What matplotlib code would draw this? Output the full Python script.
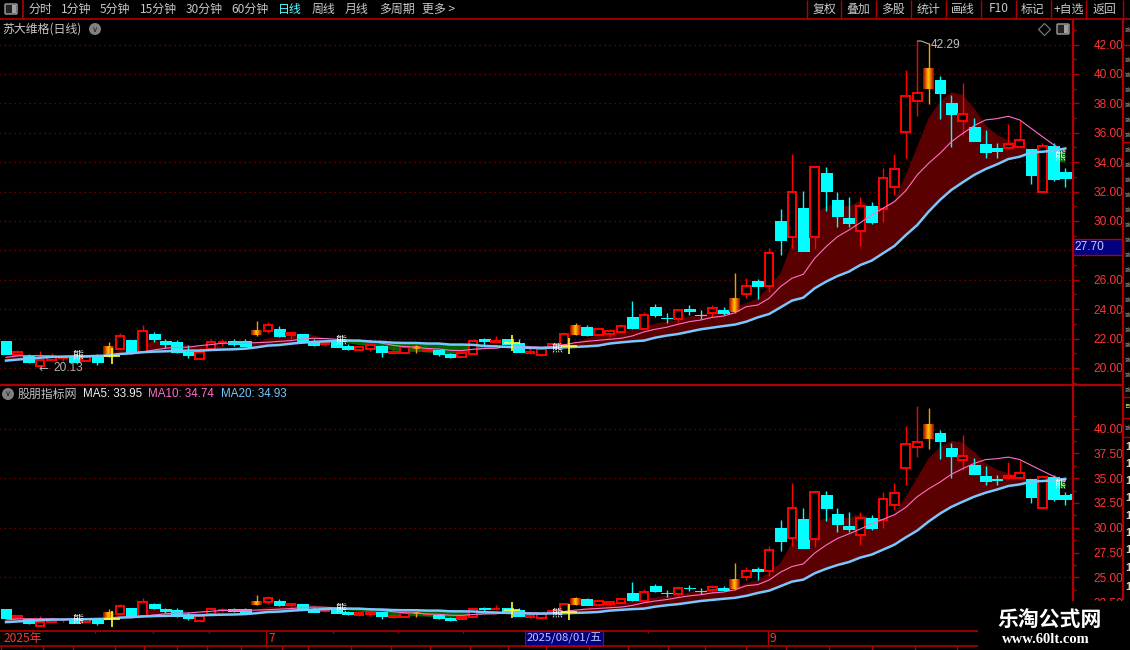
import numpy as np
import matplotlib
matplotlib.use("Agg")
import matplotlib.pyplot as plt
from matplotlib.colors import LinearSegmentedColormap
from matplotlib.patches import Rectangle, Circle, FancyBboxPatch

plt.rcParams['font.family'] = ['Noto Sans CJK SC', 'DejaVu Sans']

# candles
opens = [21.84, 20.88, 20.84, 20.13, 20.54, 20.67, 20.77, 20.5, 20.75, 20.82,
         21.3, 21.9, 21.09, 22.31, 21.84, 21.77, 21.11, 20.64, 21.27, 21.74,
         21.84, 21.84, 22.24, 22.52, 22.65, 22.22, 22.31, 21.75, 21.6, 21.9,
         21.5, 21.25, 21.3, 21.5, 21.0, 21.04, 21.3, 21.17, 21.2, 20.95,
         20.77, 20.97, 21.95, 21.79, 21.95, 21.7, 21.05, 20.9, 21.45, 21.56,
         22.24, 22.79, 22.27, 22.33, 22.47, 23.47, 22.63, 24.15, 23.43, 23.36,
         23.98, 23.63, 23.72, 23.94, 23.83, 25.05, 25.89, 25.6, 30.0, 28.93,
         30.88, 28.89, 33.26, 31.43, 30.2, 29.3, 31.02, 30.79, 32.33, 36.03,
         38.14, 38.98, 39.59, 38.02, 36.78, 36.37, 35.23, 34.96, 34.99, 35.01,
         34.9, 31.95, 35.08, 33.33]
closes = [20.95, 21.09, 20.41, 20.54, 20.77, 20.72, 20.41, 20.77, 20.41, 21.5,
          22.15, 21.09, 22.5, 21.97, 21.63, 21.11, 20.91, 21.11, 21.79, 21.76,
          21.61, 21.52, 22.58, 22.92, 22.18, 22.36, 21.79, 21.56, 21.75, 21.45,
          21.27, 21.4, 21.54, 21.09, 21.1, 21.45, 21.5, 21.2, 20.95, 20.75,
          21.0, 21.8, 21.84, 21.85, 21.63, 21.09, 21.1, 21.27, 21.63, 22.31,
          22.86, 22.24, 22.63, 22.5, 22.83, 22.72, 23.58, 23.6, 23.4, 23.92,
          23.9, 23.6, 24.06, 23.76, 24.76, 25.6, 25.6, 27.8, 28.7, 31.95,
          27.98, 33.65, 32.04, 30.34, 29.86, 31.0, 29.93, 32.9, 33.51, 38.48,
          38.68, 40.4, 38.73, 37.28, 37.25, 35.46, 34.71, 34.78, 35.21, 35.48,
          33.15, 35.08, 32.88, 32.95]
highs = [21.84, 21.22, 20.95, 21.16, 21.0, 20.88, 20.88, 20.88, 20.95, 21.79,
         22.36, 21.9, 22.93, 22.47, 21.97, 21.9, 21.56, 21.34, 21.97, 21.95,
         21.97, 21.95, 23.2, 23.1, 22.86, 22.43, 22.31, 22.0, 21.8, 21.95,
         21.6, 21.5, 21.54, 21.56, 21.33, 21.45, 21.56, 21.4, 21.2, 21.04,
         21.11, 21.97, 22.06, 22.18, 21.95, 21.97, 21.45, 21.27, 21.7, 22.47,
         23.04, 22.92, 22.72, 22.63, 22.97, 24.56, 23.81, 24.35, 23.72, 23.92,
         24.29, 23.95, 24.29, 24.12, 26.44, 26.1, 26.03, 28.14, 30.81, 34.55,
         32.04, 33.65, 33.67, 31.95, 31.63, 31.63, 31.29, 33.6, 34.55, 40.27,
         42.29, 42.08, 39.86, 38.57, 39.38, 37.0, 36.19, 35.3, 36.6, 36.8,
         34.9, 35.28, 35.28, 33.6]
lows = [20.95, 20.88, 20.32, 20.13, 20.54, 20.5, 20.41, 20.5, 20.18, 20.77,
        21.3, 20.95, 21.09, 21.79, 21.38, 21.04, 20.7, 20.64, 21.27, 21.5,
        21.52, 21.52, 22.18, 22.36, 22.13, 21.95, 21.68, 21.52, 21.5, 21.4,
        21.2, 21.2, 21.15, 20.77, 20.95, 21.04, 21.04, 21.15, 20.84, 20.66,
        20.77, 20.97, 21.56, 21.68, 21.63, 21.09, 20.95, 20.83, 21.45, 21.56,
        22.24, 22.18, 22.27, 22.09, 22.47, 22.63, 22.63, 23.49, 23.08, 23.15,
        23.63, 23.33, 23.45, 23.6, 23.76, 24.78, 24.71, 25.19, 27.68, 28.18,
        27.98, 28.09, 30.68, 29.61, 29.61, 28.3, 29.79, 29.93, 31.77, 34.28,
        37.14, 37.96, 36.94, 35.05, 35.82, 35.46, 34.28, 34.28, 34.9, 35.01,
        32.51, 31.95, 32.74, 32.33]
hot_days = [9, 22, 36, 50, 64, 81]

ma5 = [20.77, 20.93, 20.88, 20.88, 20.82, 20.75, 20.79, 20.75, 20.73, 20.93,
       21.22, 21.34, 21.56, 21.9, 21.79, 21.68, 21.56, 21.45, 21.68, 21.41,
       21.34, 21.5, 21.72, 22.02, 22.09, 22.13, 22.31, 22.22, 22.02, 21.9,
       21.68, 21.56, 21.45, 21.3, 21.2, 21.1, 21.1, 21.05, 21.0, 20.95,
       21.0, 21.1, 21.3, 21.45, 21.5, 21.45, 21.36, 21.35, 21.4, 21.45,
       21.7, 22.0, 22.25, 22.35, 22.47, 22.6, 22.8, 23.0, 23.15, 23.26,
       23.5, 23.65, 23.8, 23.9, 24.1, 24.4, 24.74, 25.53, 26.44, 28.48,
       29.61, 30.52, 30.97, 31.2, 30.97, 31.38, 30.97, 30.97, 31.43, 33.13,
       35.05, 36.98, 38.12, 38.77, 38.57, 37.66, 36.53, 35.85, 35.5, 35.17,
       34.83, 34.3, 34.1, 33.95]
ma10 = [20.72, 20.82, 20.84, 20.84, 20.82, 20.77, 20.77, 20.77, 20.77, 20.88,
        20.97, 20.97, 21.09, 21.22, 21.34, 21.41, 21.41, 21.52, 21.59, 21.68,
        21.68, 21.68, 21.72, 21.75, 21.81, 21.86, 21.97, 22.02, 22.0, 21.95,
        21.9, 21.84, 21.84, 21.68, 21.54, 21.45, 21.41, 21.32, 21.29, 21.2,
        21.18, 21.27, 21.32, 21.34, 21.45, 21.5, 21.45, 21.41, 21.43, 21.57,
        21.72, 21.81, 21.88, 21.95, 22.02, 22.18, 22.45, 22.63, 22.77, 22.97,
        23.15, 23.26, 23.44, 23.53, 23.76, 24.17, 24.28, 24.74, 25.53, 26.1,
        26.37, 27.46, 28.25, 28.93, 29.38, 29.88, 30.4, 30.86, 31.31, 32.06,
        33.13, 33.92, 34.6, 35.39, 35.96, 36.48, 36.87, 36.96, 37.12, 36.87,
        36.3, 35.73, 35.17, 34.74]
ma20 = [20.5, 20.57, 20.63, 20.7, 20.75, 20.77, 20.79, 20.79, 20.82, 20.84,
        20.95, 21.0, 21.07, 21.11, 21.13, 21.16, 21.18, 21.18, 21.22, 21.25,
        21.27, 21.31, 21.4, 21.52, 21.56, 21.65, 21.72, 21.77, 21.81, 21.84,
        21.86, 21.86, 21.79, 21.77, 21.72, 21.7, 21.7, 21.66, 21.66, 21.59,
        21.59, 21.57, 21.5, 21.47, 21.43, 21.4, 21.36, 21.36, 21.38, 21.4,
        21.43, 21.47, 21.52, 21.66, 21.74, 21.81, 21.86, 22.06, 22.2, 22.31,
        22.47, 22.63, 22.74, 22.85, 22.95, 23.15, 23.44, 23.67, 24.12, 24.58,
        24.78, 25.42, 25.87, 26.25, 26.55, 27.0, 27.3, 27.8, 28.3, 29.04,
        29.72, 30.63, 31.43, 32.11, 32.63, 33.13, 33.53, 33.85, 34.21, 34.37,
        34.65, 34.71, 34.78, 34.93]

# signal marks
xiong_x = [6.3, 29.4, 48.4, 92.5]
xiong_y = [20.82, 21.9, 21.36, 34.4]
cross_x = [9.3, 44.4, 49.4]
cross_y = [20.8, 21.7, 21.5]

top_ticks = [20, 22, 24, 26, 28, 30, 32, 34, 36, 38, 40, 42]
top_labels = ['20.00', '22.00', '24.00', '26.00', '', '30.00', '32.00', '34.00',
              '36.00', '38.00', '40.00', '42.00']
bot_ticks = [22.5, 25, 27.5, 30, 32.5, 35, 37.5, 40]
bot_grid = [25, 30, 35, 40]

tabs = ['分时', '1分钟', '5分钟', '15分钟', '30分钟', '60分钟', '日线', '周线', '月线', '多周期', '更多 >']
tab_x = [40, 76, 115, 158, 204, 250, 290, 323, 357, 397, 439]
tools = ['复权', '叠加', '多股', '统计', '画线', 'F10', '标记', '+自选', '返回']
tool_x = [825, 858, 893, 928, 963, 999, 1033, 1069, 1104]
tool_sep = [807, 841, 876, 911, 946, 981, 1016, 1051, 1086, 1123]
time_ticks = [95, 153, 209, 333, 398, 463, 648]
bottom_sep = [1, 43, 73, 115, 144, 177, 207, 241, 282, 308, 351, 391, 430, 470,
              508, 546, 589, 628, 668, 705, 746, 786, 829, 872, 915, 957]

RED = '#b00000'
GRID = '#8a0000'
TICKTXT = '#ff3535'
W, H = 1130, 650
STEP = 11.39
X0 = 6.0

fig = plt.figure(figsize=(W / 100, H / 100), dpi=100, facecolor='black')
hot = LinearSegmentedColormap.from_list('hot_bar', ['#a01000', '#e86000', '#ffd000', '#e86000', '#a01000'])


def pane(y_top, y_bot, lim_top, lim_bot):
    ax = fig.add_axes([0, 1 - y_bot / H, 1072.5 / W, (y_bot - y_top) / H], facecolor='black')
    idx = np.arange(len(opens))
    a5 = np.array(ma5)
    a20 = np.array(ma20)
    ax.fill_between(idx, a5, a20, where=a5 >= a20, interpolate=True, color='#5a0000', lw=0, zorder=1)
    ax.fill_between(idx, a5, a20, where=a5 < a20, interpolate=True, color='#006400', lw=0, zorder=1)

    for i in idx:
        o, c, h, l = opens[i], closes[i], highs[i], lows[i]
        if i in hot_days:
            ax.vlines(i, l, h, color='#ff9900', lw=1.0, zorder=2)
            ax.imshow(np.linspace(0, 1, 12).reshape(1, -1), cmap=hot, aspect='auto',
                      extent=[i - 0.48, i + 0.48, o, c], zorder=3)
        elif c >= o:
            ax.vlines(i, l, h, color='#ff0000', lw=1.0, zorder=2)
            ax.add_patch(Rectangle((i - 0.38, o), 0.76, c - o, fc='black', ec='#ff0000', lw=1.1,
                                   zorder=3, antialiased=False))
        else:
            ax.vlines(i, l, h, color='#00ffff', lw=1.0, zorder=2)
            ax.add_patch(Rectangle((i - 0.48, c), 0.96, o - c, fc='#00ffff', ec='#00ffff', lw=0.4,
                                   zorder=3, antialiased=False))

    ax.plot(idx, ma10, color='#ff70c8', lw=0.8, zorder=4)
    ax.plot(idx, ma20, color='#78c8ff', lw=1.8, zorder=4)
    ax.plot(cross_x, cross_y, '+', color='#ffff30', ms=11, mew=1.2, zorder=5)
    for x, y in zip(xiong_x, xiong_y):
        ax.text(x, y, '熊', color='white', fontsize=8, ha='center', va='center', zorder=6)

    ax.set_xlim(-X0 / STEP, (1072.5 - X0) / STEP)
    ax.set_ylim(lim_bot, lim_top)
    ax.set_xticks([])
    for s in ['left', 'top', 'bottom']:
        ax.spines[s].set_visible(False)
    ax.spines['right'].set_color(RED)
    ax.spines['right'].set_linewidth(1.6)
    ax.yaxis.tick_right()
    ax.tick_params(axis='y', which='major', length=4, width=1, color=RED, labelcolor=TICKTXT,
                   labelsize=8.6, pad=11)
    ax.tick_params(axis='y', which='minor', length=2.5, width=1, color=RED)
    return ax


# upper pane
ax1 = pane(20, 385, 43.67, 18.84)
ax1.set_yticks(top_ticks)
ax1.set_yticklabels(top_labels, family=['Liberation Sans'])
ax1.set_yticks(np.arange(19, 44, 2), minor=True)
ax1.hlines(top_ticks, -1, 94, color=GRID, lw=0.9, linestyles=(0, (1, 3)), zorder=0.5)

# lower pane
ax2 = pane(386, 628, 44.28, 19.91)
ax2.set_yticks(bot_ticks)
ax2.set_yticklabels(['%.2f' % t for t in bot_ticks], family=['Liberation Sans'])
ax2.set_yticks([23.75, 26.25, 28.75, 31.25, 33.75, 36.25, 38.75, 41.25], minor=True)
ax2.hlines(bot_grid, -1, 94, color=GRID, lw=0.9, linestyles=(0, (1, 3)), zorder=0.5)

# everything around the panes, in pixels
ui = fig.add_axes([0, 0, 1, 1], facecolor='none', zorder=10)
ui.set_xlim(0, W)
ui.set_ylim(H, 0)
ui.axis('off')

ui.hlines(19, 0, W, color=RED, lw=1.2)
ui.vlines(23, 0, 19, color=RED, lw=1.2)
ui.hlines(385, 0, 1123, color=RED, lw=1.6)
ui.vlines(1123, 19, 600, color=RED, lw=1.6)
ui.vlines(tool_sep, 0, 19, color=RED, lw=1.0)

ui.add_patch(FancyBboxPatch((6, 5), 10, 8, boxstyle='round,pad=1', fc='#222222', ec='#a0a0a0', lw=1))
ui.add_patch(Rectangle((12, 5), 4, 8, fc='#a0a0a0', ec='none'))
for t, x in zip(tabs, tab_x):
    ui.text(x, 9, t, color='#55ffff' if t == '日线' else '#c8c8c8', fontsize=8.6, ha='center', va='center')
for t, x in zip(tools, tool_x):
    ui.text(x, 9, t, color='#c8c8c8', fontsize=8.6, ha='center', va='center')

ui.text(2, 29, '苏大维格(日线)', color='#c8c8c8', fontsize=8.6, va='center')
ui.add_patch(Circle((95, 29), 6, fc='#808080', ec='none'))
ui.text(95, 29, '∨', color='#202020', fontsize=6, ha='center', va='center', family='DejaVu Sans')
ui.plot([1044], [29], 'D', mfc='none', mec='#808080', ms=6, mew=0.8)
ui.add_patch(FancyBboxPatch((1058, 25), 10, 8, boxstyle='round,pad=1', fc='#222222', ec='#a0a0a0', lw=1))
ui.add_patch(Rectangle((1064, 25), 4, 8, fc='#a0a0a0', ec='none'))

# high / low notes
ui.plot([918, 921, 929], [41, 41, 44], color='#b0b0b0', lw=0.8)
ui.text(931, 45.5, '42.29', color='#c0c0c0', fontsize=8.6, va='center', family=['Liberation Sans'])
ui.text(38, 368, '←', color='#b0b0b0', fontsize=8.6, va='center', family='DejaVu Sans')
ui.text(53, 368, '20.13', color='#b0b0b0', fontsize=8.6, va='center', family=['Liberation Sans'])

# current price box
ui.add_patch(Rectangle((1073, 239), 50, 16, fc='#000080', ec=RED, lw=1))
ui.text(1074, 247, '27.70', color='#c8c8ff', fontsize=8.6, va='center', family=['Liberation Sans'])
ui.hlines([175, 495], 1070, 1072, color='#00ffff', lw=1.5)

# second legend row
ui.add_patch(Circle((8, 394), 6, fc='#808080', ec='none'))
ui.text(8, 394, '∨', color='#202020', fontsize=6, ha='center', va='center', family='DejaVu Sans')
ui.text(18, 394, '股朋指标网', color='#c0c0c0', fontsize=8.6, va='center')
ui.text(83, 394, 'MA5: 33.95', color='#f0f0f0', fontsize=8.4, va='center', family=['Liberation Sans'])
ui.text(148, 394, 'MA10: 34.74', color='#ff70c8', fontsize=8.4, va='center', family=['Liberation Sans'])
ui.text(221, 394, 'MA20: 34.93', color='#78c8ff', fontsize=8.4, va='center', family=['Liberation Sans'])

# time axis
ui.hlines([630.5, 646], 0, 978, color=RED, lw=1.2)
ui.vlines(time_ticks, 630, 633, color=RED, lw=1)
ui.vlines([266, 768], 630, 646, color=RED, lw=1)
ui.vlines(bottom_sep, 646, 650, color=RED, lw=1)
ui.text(4, 638.5, '2025年', color=TICKTXT, fontsize=8.6, va='center')
ui.text(268, 638.5, '7', color=TICKTXT, fontsize=8.6, va='center')
ui.text(770, 638.5, '9', color=TICKTXT, fontsize=8.6, va='center')
ui.add_patch(Rectangle((525, 631), 78, 15, fc='#000080', ec=RED, lw=0.8))
ui.text(564, 638.5, '2025/08/01/五', color='#c0c0ff', fontsize=8.2, ha='center', va='center')

# narrow side panel at the far right, only a sliver of it shows
ui.hlines([45, 142, 397, 418, 437], 1123, W, color=RED, lw=1)
for y in np.arange(30, 395, 15):
    if y != 45:
        ui.text(1124.5, y, '涨', color='#b8b8b8', fontsize=3.9, va='center')
ui.text(1124.5, 407, '日', color='#e0e040', fontsize=3.9, va='center')
ui.text(1124.5, 428, '涨', color='#c0c0c0', fontsize=3.9, va='center')
for y in [447, 464, 481, 498, 516, 533, 550, 568, 587]:
    ui.text(1125, y, '1', color='#d8d8d8', fontsize=8, va='center', fontweight='bold', family=['Liberation Sans'])

# watermark block
ui.add_patch(Rectangle((978.5, 600.5), 152, 50, fc='black', ec='none', zorder=8))
ui.text(1050, 619, '乐淘公式网', color='white', fontsize=15, fontweight='bold', ha='center', va='center', zorder=9)
ui.text(1046, 639.5, 'www.60lt.com', color='white', fontsize=10.5, fontweight='bold', ha='center', va='center',
        family=['Liberation Serif'], zorder=9)

fig.savefig('out.png', dpi=100, facecolor='black')
